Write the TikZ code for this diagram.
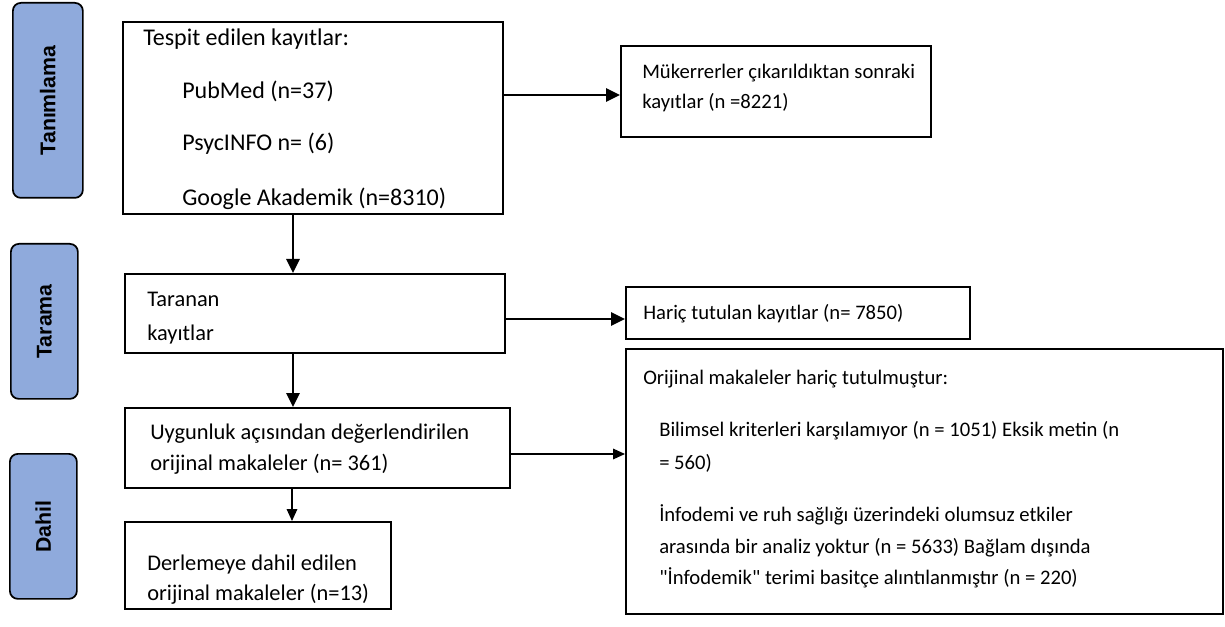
\documentclass[tikz,border=0pt]{standalone}
\usepackage{fontspec}
\setmainfont{Carlito}
\newfontfamily\tabfont{Liberation Sans}
% same face without the TeX character mapping, for straight quotes
\newfontfamily\plainfont{Carlito}
\usetikzlibrary{arrows.meta}
\definecolor{tabblue}{RGB}{143,170,220}
\tikzset{
  box/.style={draw=black, line width=1.5pt, inner sep=0pt, anchor=north west},
  phase/.style={draw=black, line width=1.3pt, fill=tabblue, rounded corners=6pt, inner sep=0pt, anchor=north west},
  phaselabel/.style={rotate=90, font=\tabfont\bfseries\fontsize{16}{18}\selectfont},
  txt/.style={anchor=base west, inner sep=0pt, font=\fontsize{15.5}{18}\selectfont},
  txtbig/.style={anchor=base west, inner sep=0pt, font=\fontsize{18}{20}\selectfont},
  txtmid/.style={anchor=base west, inner sep=0pt, font=\fontsize{16.8}{19}\selectfont},
  arr/.style={line width=1.5pt, -{Triangle[length=10.5pt,width=10pt]}},
  thinarr/.style={line width=0.9pt, -{Triangle[length=9pt,width=8pt]}}
}
\begin{document}
\begin{tikzpicture}[x=0.75pt,y=-0.75pt]
\useasboundingbox (0,0) rectangle (1225,627);

% phase tabs
\node[phase, minimum width=70*0.75pt, minimum height=195*0.75pt] (p1) at (12,2) {};
\node[phaselabel] (p1t) at (p1.center) {Tanımlama};
\node[phase, minimum width=67*0.75pt, minimum height=155*0.75pt] (p2) at (10,243) {};
\node[phaselabel] (p2t) at (p2.center) {Tarama};
\node[phase, minimum width=67*0.75pt, minimum height=145*0.75pt] (p3) at (9,453) {};
\node[phaselabel] (p3t) at (p3.center) {Dahil};

% boxes
\node[box, minimum width=380*0.75pt, minimum height=192*0.75pt] (b1) at (122,21) {};
\node[box, minimum width=310*0.75pt, minimum height=91*0.75pt] (b2) at (620,45) {};
\node[box, minimum width=380*0.75pt, minimum height=79*0.75pt] (b3) at (124,273) {};
\node[box, minimum width=344*0.75pt, minimum height=52*0.75pt] (b4) at (625,286) {};
\node[box, minimum width=385*0.75pt, minimum height=80*0.75pt] (b5) at (124,407) {};
\node[box, minimum width=597*0.75pt, minimum height=265*0.75pt] (b6) at (625,348) {};
\node[box, minimum width=266*0.75pt, minimum height=87*0.75pt] (b7) at (124,521) {};

% texts
\node[txtbig] (t1a) at (143,45.5) {Tespit edilen kayıtlar:};
\node[txtbig] (t1b) at (182,98.5) {PubMed (n=37)};
\node[txtbig] (t1c) at (182,150.5) {PsycINFO n= (6)};
\node[txtbig] (t1d) at (182,205.5) {Google Akademik (n=8310)};

\node[txt] (t2a) at (642,78.6) {Mükerrerler çıkarıldıktan sonraki};
\node[txt] (t2b) at (642,108.6) {kayıtlar (n =8221)};

\node[txtmid] (t3a) at (147,307) {Taranan};
\node[txtmid] (t3b) at (147,340) {kayıtlar};

\node[txt] (t4) at (643,319.6) {Hariç tutulan kayıtlar (n= 7850)};

\node[txtmid] (t5a) at (150,439) {Uygunluk açısından değerlendirilen};
\node[txtmid] (t5b) at (150,470) {orijinal makaleler (n= 361)};

\node[txt] (t6a) at (643,384.6) {Orijinal makaleler hariç tutulmuştur:};
\node[txt] (t6b) at (659,436.6) {Bilimsel kriterleri karşılamıyor (n = 1051) Eksik metin (n};
\node[txt] (t6c) at (659,469.6) {= 560)};
\node[txt] (t6d) at (659,521.6) {İnfodemi ve ruh sağlığı üzerindeki olumsuz etkiler};
\node[txt] (t6e) at (659,553.6) {arasında bir analiz yoktur (n = 5633) Bağlam dışında};
\node[txt] (t6f) at (659,584.6) {\plainfont "İnfodemik" terimi basitçe alıntılanmıştır (n = 220)};

\node[txtmid] (t7a) at (147,570) {Derlemeye dahil edilen};
\node[txtmid] (t7b) at (147,600) {orijinal makaleler (n=13)};

% connectors
\draw[arr] (b1.east |- 0,95) -- (b2.west |- 0,95);
\draw[arr] (b1.south -| 293,0) -- (b3.north -| 293,0);
\draw[arr] (b3.east |- 0,319) -- (b4.west |- 0,319);
\draw[arr] (b3.south -| 293,0) -- (b5.north -| 293,0);
\draw[thinarr] (b5.east |- 0,454) -- (b6.west |- 0,454);
\draw[thinarr] (b5.south -| 292,0) -- (b7.north -| 292,0);
\end{tikzpicture}
\end{document}
